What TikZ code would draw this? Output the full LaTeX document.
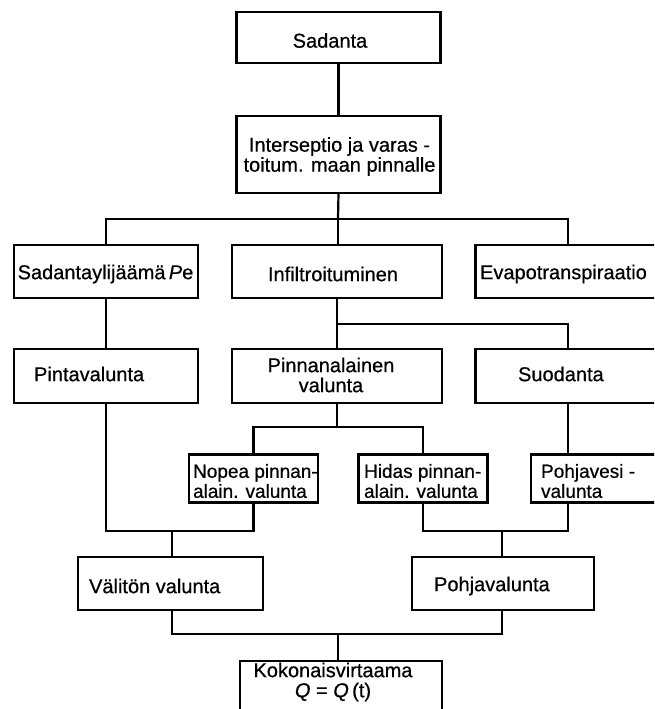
\documentclass[tikz,border=0pt]{standalone}
\usepackage{fontspec}
\setmainfont{Liberation Sans}[FakeBold=0.6]
\begin{document}
\begin{tikzpicture}[x=1pt,y=-1pt,line width=2.2pt,
  box/.style={draw, inner sep=0pt, outer sep=0pt},
  txt/.style={inner sep=0pt, font=\fontsize{20}{20}\selectfont, align=center},
  stxt/.style={inner sep=0pt, font=\fontsize{19}{20}\selectfont, align=left, anchor=west},
  ltxt/.style={txt, align=left, anchor=west}]
\useasboundingbox (0,0) rectangle (654,709);
\fill[white] (0,0) rectangle (654,709);
\begin{scope}
\clip (0,0) rectangle (654,709);
% boxes
\node[box, minimum width=204, minimum height=51] (sad) at (338.5,37.5) {};
\node[box, minimum width=204, minimum height=77] (inter) at (338.5,154.5) {};
\node[box, minimum width=184, minimum height=53] (sadyl) at (106,271.5) {};
\node[box, minimum width=210, minimum height=53] (infil) at (337,271.5) {};
\node[box, minimum width=185, minimum height=53] (evapo) at (568,271.5) {};
\node[box, minimum width=184, minimum height=54] (pinta) at (106,376) {};
\node[box, minimum width=210, minimum height=54] (pinnan) at (337,376) {};
\node[box, minimum width=185, minimum height=54] (suod) at (568,376) {};
\node[box, minimum width=129, minimum height=48] (nopea) at (253.5,478.5) {};
\node[box, minimum width=129, minimum height=48] (hidas) at (423,478.5) {};
\node[box, minimum width=130, minimum height=48] (pohjav) at (596,478.5) {};
\node[box, minimum width=185, minimum height=53] (valiton) at (170.5,583.5) {};
\node[box, minimum width=182, minimum height=53] (pohjaval) at (503,583.5) {};
\node[box, minimum width=202, minimum height=70, anchor=north] (koko) at (341,661) {};
% texts
\node[txt] (sadt) at (330,40.5) {Sadanta};
\node[txt] (intert) at (339.5,156.5) {Interseptio ja varas -\\toitum. maan pinnalle};
\node[txt] (sadylt) at (105.5,274) {Sadantaylijäämä\,\textit{P}e};
\node[txt] (infilt) at (333,274) {Infiltroituminen};
\node[ltxt] (evapot) at (479,274) {Evapotranspiraatio};
\node[ltxt] (pintat) at (33,374) {Pintavalunta};
\node[txt] (pinnant) at (331,375) {Pinnanalainen\\valunta};
\node[ltxt] (suodt) at (517,374) {Suodanta};
\node[stxt] (nopeat) at (192,481) {Nopea pinnan-\\alain. valunta};
\node[stxt] (hidast) at (363,481) {Hidas pinnan-\\alain. valunta};
\node[stxt] (pohjavt) at (540,481) {Pohjavesi -\\valunta};
\node[ltxt] (valitont) at (88,586) {Välitön valunta};
\node[ltxt] (pohjavalt) at (433,586) {Pohjavalunta};
\node[txt] (kokot) at (333,682) {Kokonaisvirtaama\\\textit{Q} = \textit{Q}\,(t)};
% junctions
\coordinate (j1) at (338,219);
\coordinate (j2) at (337,324);
\coordinate (j3) at (337,427);
\coordinate (j4) at (172,531);
\coordinate (j5) at (502,531);
\coordinate (j6) at (338,634);
% connectors
\draw (sad.south) -- (inter.north);
\draw (inter.south) -- (j1);
\draw (sadyl.north) |- (j1) -| (evapo.north);
\draw (j1) -- (j1 |- infil.north);
\draw (sadyl.south) -- (pinta.north);
\draw (infil.south) -- (j2);
\draw (j2) -- (pinnan.north);
\draw (j2) -| (suod.north);
\draw (pinnan.south) -- (j3);
\draw (nopea.north) |- (j3) -| (hidas.north);
\draw (suod.south) -- (suod.south |- pohjav.north);
\draw (pinta.south) |- (j4);
\draw (nopea.south) |- (j4);
\draw (j4) -- (j4 |- valiton.north);
\draw (hidas.south) |- (j5);
\draw (suod.south |- pohjav.south) |- (j5);
\draw (j5) -- (j5 |- pohjaval.north);
\draw (j4 |- valiton.south) |- (j6);
\draw (j5 |- pohjaval.south) |- (j6);
\draw (j6) -- (j6 |- koko.north);
\end{scope}
\end{tikzpicture}
\end{document}
